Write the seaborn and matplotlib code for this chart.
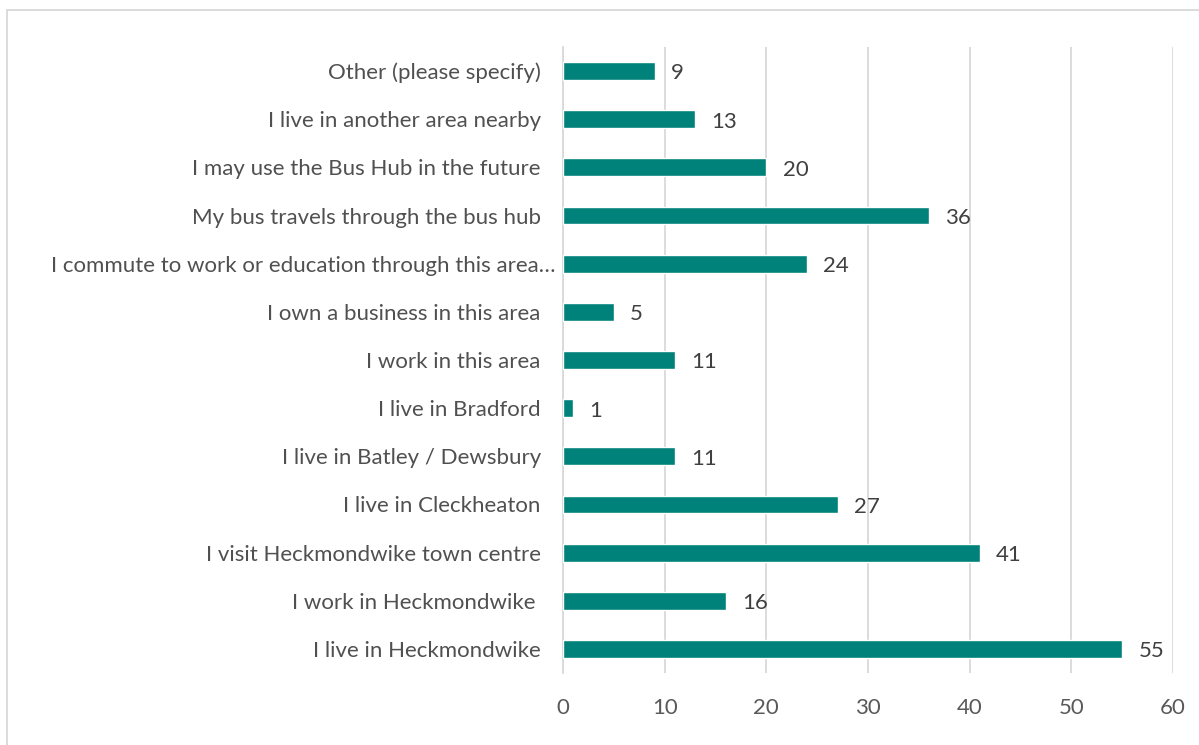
import matplotlib
matplotlib.use("Agg")
import matplotlib.pyplot as plt
import matplotlib.transforms as mtransforms
import seaborn as sns
import pandas as pd
from matplotlib.patches import Rectangle

# Responses, top to bottom as shown in the chart
categories = [
    "Other (please specify)",
    "I live in another area nearby",
    "I may use the Bus Hub in the future",
    "My bus travels through the bus hub",
    "I commute to work or education through this area…",
    "I own a business in this area",
    "I work in this area",
    "I live in Bradford",
    "I live in Batley / Dewsbury",
    "I live in Cleckheaton",
    "I visit Heckmondwike town centre",
    "I work in Heckmondwike ",
    "I live in Heckmondwike",
]
counts = [9, 13, 20, 36, 24, 5, 11, 1, 11, 27, 41, 16, 55]
x_ticks = [0, 10, 20, 30, 40, 50, 60]

df = pd.DataFrame({"response": categories, "count": counts})

sns.set_style("white")
plt.rcParams["font.family"] = ["Lato", "DejaVu Sans"]

fig = plt.figure(figsize=(11.99, 7.45), dpi=100)
ax = fig.add_axes([0.4696, 0.0966, 0.5087, 0.8403])

sns.barplot(data=df, x="count", y="response", color="#00827A",
            width=0.37, saturation=1, ax=ax, zorder=3)

ax.set_xlim(0, 60)
ax.set_xticks(x_ticks)
ax.set_ylim(len(categories) - 0.5, -0.5)
ax.xaxis.grid(True, color="#d9d9d9", linewidth=1.3, zorder=0)
ax.set_axisbelow(True)
for s in ["top", "right", "bottom"]:
    ax.spines[s].set_visible(False)
ax.spines["left"].set_color("#d9d9d9")
ax.spines["left"].set_linewidth(1.3)
ax.set_xlabel("")
ax.set_ylabel("")
ax.tick_params(axis="both", length=0, labelsize=16, colors="#595959")
ax.tick_params(axis="y", pad=16)
ax.tick_params(axis="x", pad=18)
for lbl in ax.get_yticklabels():
    lbl.set_color("#505050")

# the truncated long label sits a bit further right, as in the original
long_lbl = ax.get_yticklabels()[4]
long_lbl.set_transform(long_lbl.get_transform() +
                       mtransforms.ScaledTranslation(15 / 100, 0, fig.dpi_scale_trans))

for i, v in enumerate(counts):
    ax.text(v + 1.6, i + 0.05, str(v), va="center", ha="left",
            fontsize=16, color="#404040")

fig.patches.append(Rectangle((7 / 1199, -0.1), 1.2, 1 - 10 / 745 + 0.1,
                             transform=fig.transFigure, fill=False,
                             edgecolor="#d9d9d9", linewidth=1.3))

fig.savefig("out.png", dpi=100)
